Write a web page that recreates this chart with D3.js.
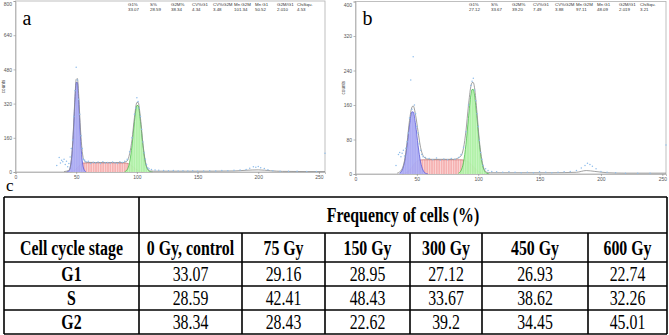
<!DOCTYPE html>
<html>
<head>
<meta charset="utf-8">
<script src="https://cdn.jsdelivr.net/npm/d3@7"></script>
<style>
  body { margin: 0; background: #fff; }
  svg { display: block; }
</style>
</head>
<body>
<svg id="main"></svg>
<script>
/* ---- data: panel a (0 Gy) ---- */
var statHeads = ["G1%", "S%", "G2M%", "CV%G1", "CV%G2M", "Mn G2M", "Mn G1", "G2M/G1", "ChiSqu."];
var statsA = ["33.07", "28.59", "38.34", "4.34", "3.48", "101.34", "50.52", "2.010", "4.53"];
var statsB = ["27.12", "33.67", "39.20", "7.49", "3.88", "97.11", "48.09", "2.019", "3.21"];

var g1ChA = [42, 44, 46, 47, 48, 49, 50, 51, 52, 53, 54, 55, 56, 58];
var g1A   = [0, 5, 53, 120, 225, 341, 419, 419, 341, 225, 120, 53, 19, 1];
var sChA  = [45, 48, 51, 54, 56, 60, 70, 80, 90, 93, 96, 99, 102, 105];
var sA    = [0, 6, 20, 37, 42, 43, 43, 43, 42, 39, 28, 14, 5, 0];
var g2ChA = [90, 92, 94, 96, 98, 100, 101, 103, 105, 107, 109, 111, 113];
var g2A   = [2, 11, 45, 124, 236, 311, 311, 236, 124, 45, 11, 2, 0];
var fitChA = [40, 44, 46, 47, 48, 49, 50, 51, 52, 53, 54, 55, 56, 58, 60, 70, 80, 88, 92, 94, 96, 98, 100, 101, 103, 105, 107, 109, 111, 114, 120, 140, 160, 180, 190, 200, 210, 220, 240, 255];
var fitA   = [2, 8, 58, 126, 233, 352, 433, 437, 368, 258, 160, 96, 62, 46, 45, 44, 44, 44, 52, 85, 152, 255, 325, 326, 250, 132, 50, 14, 5, 4, 4, 4, 4, 5, 8, 10, 6, 3, 2, 2];
var rawChA = [34, 36, 37, 38, 39, 40, 41, 42, 43, 44, 45, 46, 47, 48, 49, 50, 51, 52, 53, 54, 55, 56, 57, 58, 60, 62, 64, 66, 68, 70, 72, 74, 76, 78, 80, 82, 84, 86, 88, 90, 92, 94, 96, 98, 99, 100, 101, 102, 103, 104, 105, 106, 107, 108, 109, 110, 112, 115, 118, 122, 126, 130, 134, 138, 142, 146, 150, 155, 160, 165, 170, 175, 180, 185, 190, 193, 196, 198, 200, 202, 205, 208, 212, 218, 225, 232, 240, 248, 255];
var rawA   = [30, 68, 42, 55, 48, 60, 35, 50, 25, 40, 70, 110, 150, 260, 380, 490, 430, 340, 270, 170, 110, 60, 55, 48, 50, 40, 46, 42, 47, 40, 48, 42, 45, 41, 47, 43, 40, 48, 44, 50, 60, 95, 160, 270, 300, 347, 330, 300, 260, 200, 140, 90, 60, 35, 20, 15, 12, 9, 8, 7, 6, 7, 5, 6, 5, 6, 4, 5, 6, 5, 7, 6, 8, 9, 12, 18, 24, 22, 26, 20, 16, 10, 6, 4, 3, 3, 2, 2, 88];

/* ---- data: panel b (300 Gy) ---- */
var g1ChB = [36, 38, 40, 42, 44, 46, 47, 49, 51, 53, 55, 57, 59];
var g1B   = [2, 9, 28, 66, 114, 144, 144, 114, 66, 28, 9, 2, 0];
var sChB  = [38, 42, 45, 48, 51, 55, 70, 85, 89, 92, 95, 98, 101, 104];
var sB    = [0, 4, 12, 24, 31, 33, 33, 33, 32, 28, 20, 11, 4, 0];
var g2ChB = [84, 86, 88, 90, 92, 94, 95, 96, 97, 99, 101, 103, 105, 107, 109];
var g2B   = [2, 8, 27, 69, 129, 183, 196, 196, 183, 129, 69, 27, 8, 2, 0];
var fitChB = [34, 36, 38, 40, 42, 44, 46, 47, 49, 51, 53, 55, 58, 62, 70, 80, 86, 88, 90, 92, 94, 95, 96, 97, 99, 101, 103, 105, 107, 110, 120, 140, 160, 180, 188, 195, 205, 220, 253];
var fitB   = [2, 5, 12, 32, 72, 124, 155, 158, 136, 98, 62, 43, 35, 34, 34, 34, 42, 60, 100, 158, 203, 212, 212, 200, 142, 75, 32, 10, 4, 3, 3, 3, 3, 4, 8, 6, 3, 2, 2];
var rawChB = [33, 35, 36, 37, 38, 39, 40, 41, 42, 43, 44, 45, 46, 47, 48, 49, 50, 51, 52, 53, 54, 55, 57, 60, 63, 66, 69, 72, 75, 78, 81, 84, 86, 88, 90, 92, 94, 95, 96, 97, 98, 99, 100, 101, 102, 103, 104, 106, 108, 111, 115, 120, 125, 130, 135, 140, 145, 150, 155, 160, 165, 170, 175, 180, 184, 187, 189, 191, 193, 196, 200, 205, 212, 220, 230, 240, 253];
var rawB   = [20, 45, 50, 40, 48, 55, 42, 60, 75, 95, 130, 218, 150, 272, 160, 140, 110, 95, 70, 55, 45, 40, 38, 36, 33, 37, 32, 35, 33, 36, 34, 38, 45, 62, 98, 160, 205, 215, 222, 195, 170, 140, 110, 78, 50, 34, 20, 12, 8, 6, 5, 4, 5, 4, 3, 4, 3, 5, 4, 3, 4, 5, 6, 8, 14, 20, 25, 22, 18, 12, 6, 4, 3, 2, 2, 2, 67];

/* ---- data: table c ---- */
var doses = ["0 Gy, control", "75 Gy", "150 Gy", "300 Gy", "450 Gy", "600 Gy"];
var stages = ["G1", "S", "G2"];
var freqG1 = ["33.07", "29.16", "28.95", "27.12", "26.93", "22.74"];
var freqS  = ["28.59", "42.41", "48.43", "33.67", "38.62", "32.26"];
var freqG2 = ["38.34", "28.43", "22.62", "39.2", "34.45", "45.01"];

var W = 669, H = 335;
var svg = d3.select('#main').attr('width', W).attr('height', H);
var defs = svg.append('defs');

/* stripe patterns used for the model components */
function makeStripes(id, fill, op){
    var p = defs.append('pattern')
        .attr('id', id)
        .attr('patternUnits', 'userSpaceOnUse')
        .attr('width', 2.4).attr('height', 10);
    p.append('rect').attr('width', 2.4).attr('height', 10).attr('fill', fill);
    p.append('line')
        .attr('x1', 1.2).attr('x2', 1.2).attr('y1', 0).attr('y2', 10)
        .attr('stroke', '#fff').attr('stroke-width', 0.6).attr('stroke-opacity', op);
}
makeStripes('stRed', '#f5adad', 0.75);
makeStripes('stGreen', '#adf0a4', 0.45);
makeStripes('stBlue', '#a8a8f2', 0.2);

function drawPanel(cfg){
    var g = svg.append('g');
    var x = d3.scaleLinear().domain([0, cfg.xMax]).range([cfg.x0, cfg.x1]);
    var y = d3.scaleLinear().domain([0, cfg.yMax]).range([cfg.y0, cfg.y1]);

    // frame
    g.append('rect')
        .attr('x', cfg.x0).attr('y', cfg.y1)
        .attr('width', cfg.x1 - cfg.x0).attr('height', cfg.y0 - cfg.y1)
        .attr('fill', 'none').attr('stroke', '#b0b0b0').attr('stroke-width', 0.8);

    var area = d3.area()
        .x(d => x(d[0])).y0(y(0)).y1(d => y(d[1]))
        .curve(d3.curveMonotoneX);
    var line = d3.line()
        .x(d => x(d[0])).y(d => y(d[1]))
        .curve(d3.curveMonotoneX);

    var comps = [
        {ch: cfg.sCh,  v: cfg.s,  fill: 'url(#stRed)',   stroke: '#c46a6a'},
        {ch: cfg.g1Ch, v: cfg.g1, fill: 'url(#stBlue)',  stroke: '#4a4ad6'},
        {ch: cfg.g2Ch, v: cfg.g2, fill: 'url(#stGreen)', stroke: '#3cb83c'}
    ];
    comps.forEach(function(c){
        var pts = d3.zip(c.ch, c.v);
        g.append('path').datum(pts)
            .attr('d', area)
            .attr('fill', c.fill).attr('fill-opacity', 0.95);
        g.append('path').datum(pts)
            .attr('d', line)
            .attr('fill', 'none').attr('stroke', c.stroke).attr('stroke-width', 0.7);
    });

    // fitted sum
    g.append('path').datum(d3.zip(cfg.fitCh, cfg.fit))
        .attr('d', line)
        .attr('fill', 'none').attr('stroke', '#8a8a8a').attr('stroke-width', 0.8);

    // raw histogram dots
    g.append('g').selectAll('circle')
        .data(d3.zip(cfg.rawCh, cfg.raw))
        .enter().append('circle')
        .attr('cx', d => x(d[0])).attr('cy', d => y(d[1]))
        .attr('r', 0.75).attr('fill', '#8fbdeb');

    // axes
    var ax = g.append('g').attr('transform', `translate(0,${cfg.y0})`)
        .call(d3.axisBottom(x).tickValues([0, 50, 100, 150, 200, 250]).tickSize(2).tickPadding(1.5));
    var ay = g.append('g').attr('transform', `translate(${cfg.x0},0)`)
        .call(d3.axisLeft(y).tickValues(cfg.yTicks).tickSize(2).tickPadding(1.5));
    [ax, ay].forEach(function(a){
        a.select('.domain').attr('stroke', '#b0b0b0').attr('stroke-width', 0.8);
        a.selectAll('.tick line').attr('stroke', '#888').attr('stroke-width', 0.6);
        a.selectAll('.tick text')
            .attr('font-family', 'Liberation Sans, Arial, sans-serif')
            .attr('font-size', 5).attr('fill', '#555');
    });
    // keep the top label inside the picture
    ay.selectAll('.tick text').filter(d => d === cfg.yMax).attr('dy', '0.9em');

    g.append('text')
        .attr('transform', `translate(${cfg.x0 - 11},${(cfg.y0 + cfg.y1) / 2}) rotate(-90)`)
        .attr('text-anchor', 'middle')
        .attr('font-family', 'Liberation Sans, Arial, sans-serif')
        .attr('font-size', 4.5).attr('fill', '#444')
        .text('counts');

    // stats header
    var st = g.append('g')
        .attr('font-family', 'Liberation Sans, Arial, sans-serif')
        .attr('font-size', 4.4).attr('fill', '#333');
    st.selectAll('text.h').data(statHeads).enter().append('text')
        .attr('class', 'h')
        .attr('x', (d, i) => cfg.statX[i]).attr('y', 6.2).text(d => d);
    st.selectAll('text.v').data(cfg.stats).enter().append('text')
        .attr('class', 'v')
        .attr('x', (d, i) => cfg.statX[i]).attr('y', 11.2).text(d => d);

    // panel letter
    g.append('text')
        .attr('x', cfg.x0 + 7).attr('y', 25)
        .attr('font-family', 'Liberation Serif, Times New Roman, serif')
        .attr('font-size', 20).attr('fill', '#000')
        .text(cfg.letter);
}

drawPanel({
    letter: 'a', x0: 15.5, x1: 325, y0: 172, y1: 1, xMax: 255, yMax: 800,
    yTicks: [0, 160, 320, 480, 640, 800],
    g1Ch: g1ChA, g1: g1A, sCh: sChA, s: sA, g2Ch: g2ChA, g2: g2A,
    fitCh: fitChA, fit: fitA, rawCh: rawChA, raw: rawA,
    stats: statsA, statX: [128, 150, 171, 192, 213, 234, 255, 277, 297]
});
drawPanel({
    letter: 'b', x0: 355.5, x1: 666, y0: 174, y1: 1.5, xMax: 253, yMax: 400,
    yTicks: [0, 80, 160, 240, 320, 400],
    g1Ch: g1ChB, g1: g1B, sCh: sChB, s: sB, g2Ch: g2ChB, g2: g2B,
    fitCh: fitChB, fit: fitB, rawCh: rawChB, raw: rawB,
    stats: statsB, statX: [469, 491, 512, 533, 555, 576, 597, 619, 640]
});

/* ---- table c ---- */
var colX = [4, 139, 242, 325, 410, 482, 588, 667];
var rowY = [197, 233, 262, 286, 310, 334];
var serif = 'Liberation Serif, Times New Roman, serif';

svg.append('text')
    .attr('x', 6).attr('y', 191)
    .attr('font-family', serif).attr('font-size', 17)
    .text('c');

var tg = svg.append('g').attr('font-family', serif).attr('font-size', 16.5).attr('fill', '#000');

// grid lines
var lines = [];
rowY.forEach(function(yy){ lines.push([colX[0], yy, colX[7], yy]); });
lines.push([colX[0], rowY[0], colX[0], rowY[5]]);
lines.push([colX[1], rowY[0], colX[1], rowY[5]]);
lines.push([colX[7], rowY[0], colX[7], rowY[5]]);
for (var i = 2; i < 7; i++) lines.push([colX[i], rowY[1], colX[i], rowY[5]]);
tg.selectAll('line').data(lines).enter().append('line')
    .attr('x1', d => d[0]).attr('y1', d => d[1])
    .attr('x2', d => d[2]).attr('y2', d => d[3])
    .attr('stroke', '#000').attr('stroke-width', 1.6);

function cx(i){ return (colX[i] + colX[i + 1]) / 2; }
function cy(r){ return (rowY[r] + rowY[r + 1]) / 2 + 7; }

// cell text, slightly tall like the scanned table
function cell(txt, x, y, bold){
    tg.append('text')
        .attr('transform', `translate(${x},${y}) scale(0.96,1.22)`)
        .attr('text-anchor', 'middle')
        .attr('font-weight', bold ? 'bold' : 'normal')
        .text(txt);
}

cell('Frequency of cells (%)', (colX[1] + colX[7]) / 2, cy(0), true);
cell('Cell cycle stage', cx(0), cy(1), true);
doses.forEach(function(d, i){ cell(d, cx(i + 1), cy(1), true); });

var freqRows = [freqG1, freqS, freqG2];
stages.forEach(function(s, r){
    cell(s, cx(0), cy(r + 2), true);
    freqRows[r].forEach(function(v, i){ cell(v, cx(i + 1), cy(r + 2), false); });
});
</script>
</body>
</html>
